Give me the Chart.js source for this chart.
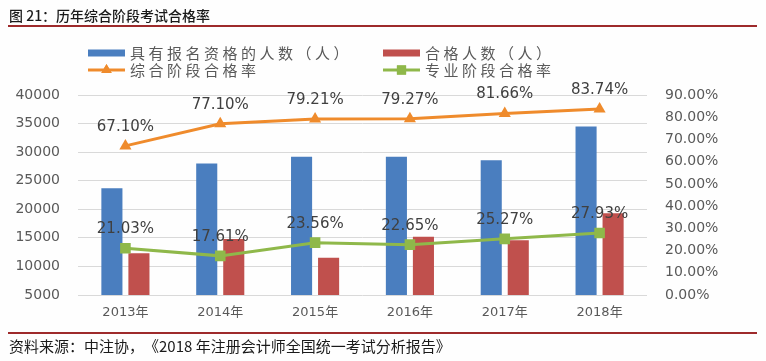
<!DOCTYPE html>
<html lang="zh-CN">
<head>
<meta charset="utf-8">
<script src="https://cdn.jsdelivr.net/npm/chart.js@4"></script>
<style>
  body { margin: 0; background: #fefefe; text-spacing-trim: space-all; }
  #wrap { position: relative; width: 766px; height: 361px; overflow: hidden; }
  #chart { position: absolute; left: 0; top: 0; }
  .title { position: absolute; left: 9px; top: 5px; font: 14px "Noto Sans CJK SC", sans-serif; color: #1a1a1a; font-weight: 500; }
  .rule { position: absolute; left: 8px; width: 749px; height: 2px; background: #9e2a2b; }
  .source { position: absolute; left: 9px; top: 335px; font: 15px "Noto Sans CJK SC", sans-serif; color: #1a1a1a; }
</style>
</head>
<body>
<div id="wrap">
  <canvas id="chart" width="766" height="361"></canvas>
  <div class="title">图 21：历年综合阶段考试合格率</div>
  <div class="rule" style="top:25px"></div>
  <div class="rule" style="top:332px"></div>
  <div class="source">资料来源：中注协，《2018 年注册会计师全国统一考试分析报告》</div>
</div>
<script>
// Chart data
const years = ['2013年', '2014年', '2015年', '2016年', '2017年', '2018年'];
const qualifiedCount = [23700, 28000, 29200, 29200, 28600, 34500]; // 具有报名资格的人数
const passedCount = [12300, 14800, 11500, 15200, 14600, 19300];    // 合格人数
const comprehensiveRate = [67.10, 77.10, 79.21, 79.27, 81.66, 83.74]; // 综合阶段合格率 (%)
const professionalRate = [21.03, 17.61, 23.56, 22.65, 25.27, 27.93];  // 专业阶段合格率 (%)

const axisFont = { family: '"DejaVu Sans", sans-serif', size: 14 };
const grey = '#595959';

// Draws the percentage labels above the line points
const pointLabels = {
    id: 'pointLabels',
    afterDatasetsDraw(chart) {
        const ctx = chart.ctx;
        ctx.save();
        ctx.font = '15px "DejaVu Sans", sans-serif';
        ctx.fillStyle = '#404040';
        ctx.textAlign = 'center';
        ctx.textBaseline = 'middle';
        chart.data.datasets.forEach((ds, i) => {
            if (ds.type !== 'line') return;
            chart.getDatasetMeta(i).data.forEach((pt, j) => {
                ctx.fillText(ds.data[j].toFixed(2) + '%', pt.x, pt.y - 19);
            });
        });
        ctx.restore();
    }
};

// Two-column legend like the original
const gridLegend = {
    id: 'gridLegend',
    afterDraw(chart) {
        const ctx = chart.ctx;
        const cells = [[88, 53], [383, 53], [88, 70], [383, 70]];
        // legend order: bars first row, lines second row
        const order = [2, 3, 0, 1];
        ctx.save();
        ctx.font = '15px "Noto Sans CJK SC", sans-serif';
        ctx.letterSpacing = '3.5px';
        ctx.textBaseline = 'middle';
        order.forEach((dsIndex, k) => {
            const ds = chart.data.datasets[dsIndex];
            const [x, y] = cells[k];
            if (ds.type === 'bar') {
                ctx.fillStyle = ds.backgroundColor;
                ctx.fillRect(x, y - 3.5, 37, 7);
            } else {
                ctx.strokeStyle = ds.borderColor;
                ctx.lineWidth = 3;
                ctx.beginPath();
                ctx.moveTo(x, y);
                ctx.lineTo(x + 37, y);
                ctx.stroke();
                ctx.fillStyle = ds.backgroundColor;
                Chart.helpers.drawPoint(ctx, { pointStyle: ds.pointStyle, radius: ds.pointRadius - 1, rotation: 0, borderWidth: 0 }, x + 18.5, y);
                ctx.fill();
            }
            ctx.fillStyle = grey;
            ctx.fillText(ds.label, x + 42, y);
        });
        ctx.restore();
    }
};

new Chart(document.getElementById('chart'), {
    data: {
        labels: years,
        datasets: [
            {
                type: 'line',
                label: '综合阶段合格率',
                data: comprehensiveRate,
                yAxisID: 'y1',
                borderColor: '#ef8b2c',
                backgroundColor: '#ef8b2c',
                borderWidth: 3,
                pointStyle: 'triangle',
                pointRadius: 7,
                pointBorderWidth: 0,
                tension: 0,
                order: 0
            },
            {
                type: 'line',
                label: '专业阶段合格率',
                data: professionalRate,
                yAxisID: 'y1',
                borderColor: '#8fb84a',
                backgroundColor: '#8fb84a',
                borderWidth: 3,
                pointStyle: 'rect',
                pointRadius: 7.5,
                pointBorderWidth: 0,
                tension: 0,
                order: 0
            },
            {
                type: 'bar',
                label: '具有报名资格的人数（人）',
                data: qualifiedCount,
                yAxisID: 'y',
                backgroundColor: '#4a7ebf',
                categoryPercentage: 0.57,
                barPercentage: 0.78,
                order: 1
            },
            {
                type: 'bar',
                label: '合格人数（人）',
                data: passedCount,
                yAxisID: 'y',
                backgroundColor: '#c0504d',
                categoryPercentage: 0.57,
                barPercentage: 0.78,
                order: 1
            }
        ]
    },
    options: {
        responsive: false,
        animation: false,
        devicePixelRatio: 1,
        layout: { padding: { top: 95, left: 0, right: 0, bottom: 0 } },
        plugins: {
            legend: { display: false },
            tooltip: { enabled: false }
        },
        scales: {
            x: {
                grid: { display: false, drawTicks: false },
                border: { display: false },
                ticks: { padding: 10, color: grey, font: { family: '"DejaVu Sans", "Noto Sans CJK SC", sans-serif', size: 13 } },
                afterFit: s => { s.height = 66; }
            },
            y: {
                position: 'left',
                min: 5000,
                max: 40000,
                grid: { color: '#d9d9d9', drawTicks: false },
                border: { display: false },
                ticks: { stepSize: 5000, padding: 18, color: grey, font: axisFont, callback: v => String(v) },
                afterFit: s => { s.width = 78; }
            },
            y1: {
                position: 'right',
                min: 0,
                max: 90,
                grid: { display: false, drawTicks: false },
                border: { display: false },
                ticks: {
                    stepSize: 10,
                    padding: 18,
                    color: grey,
                    font: axisFont,
                    callback: v => v.toFixed(2) + '%'
                },
                afterFit: s => { s.width = 119; }
            }
        }
    },
    plugins: [pointLabels, gridLegend]
});
</script>
</body>
</html>
